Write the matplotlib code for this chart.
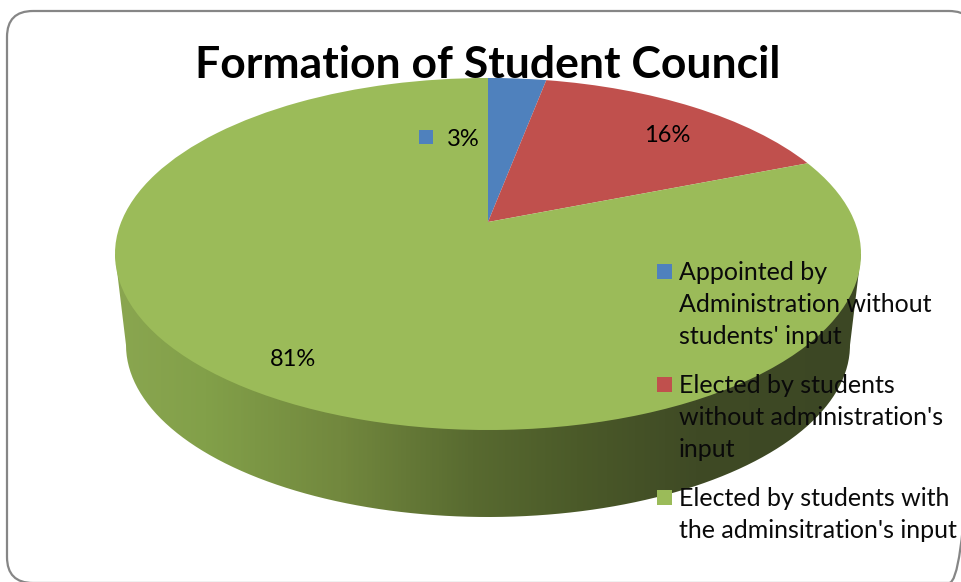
import matplotlib
matplotlib.use('Agg')
import matplotlib.pyplot as plt
import numpy as np
from matplotlib.colors import LinearSegmentedColormap
from matplotlib.patches import FancyBboxPatch, PathPatch, Rectangle
from matplotlib.path import Path
from matplotlib.transforms import Affine2D, Transform

plt.rcParams['font.family'] = ['Lato', 'DejaVu Sans']

title = 'Formation of Student Council'
categories = ["Appointed by\nAdministration without\nstudents' input",
              "Elected by students\nwithout administration's\ninput",
              "Elected by students with\nthe adminsitration's input"]
values = [3, 16, 81]
colors = ['#4F81BD', '#C0504D', '#9BBB59']

# data label places, px
label_xy = [(447, 137), (644, 134), (270, 357)]
legend_y = [271, 384, 497]

# colours of the side wall, left to right
wall_pos = [0.0, 0.12, 0.3, 0.48, 0.62, 0.78, 1.0]
wall_col = ['#8AA650', '#82A049', '#72883E', '#586A30', '#4B5A29', '#3F4A25', '#3C4724']


class Tilt(Transform):
    # pie lying on a table, seen from the front
    input_dims = 2
    output_dims = 2
    k = 0.1818

    def transform_non_affine(self, pts):
        pts = np.asarray(pts, dtype=float)
        d = 1 + self.k * pts[:, 1]
        return np.column_stack((366.8 * pts[:, 0] / d, -170.2 * pts[:, 1] / d))


fig = plt.figure(figsize=(9.61, 5.82), dpi=100)
ax = fig.add_axes([0, 0, 1, 1])

wedges, _ = ax.pie(values, colors=colors, startangle=90, counterclock=False, radius=1)
to_screen = Tilt() + Affine2D().translate(488, 222) + ax.transData
for w in wedges:
    w.set_transform(to_screen)
    w.set_zorder(3)

# side wall
t = np.linspace(np.pi, 0, 200)
wall_verts = np.column_stack((488 + 362 * np.cos(t), 345 + 172 * np.sin(t)))
wall_verts = np.vstack(([115, 254], wall_verts, [861, 254], [115, 254]))
wall_patch = PathPatch(Path(wall_verts), transform=ax.transData, fc='none', ec='none')
ax.add_patch(wall_patch)
cmap = LinearSegmentedColormap.from_list('wall', list(zip(wall_pos, wall_col)))
im = ax.imshow(np.linspace(0, 1, 400)[None, :], cmap=cmap, extent=(115, 861, 520, 250),
               aspect='auto', zorder=2)
im.set_clip_path(wall_patch)

ax.set_aspect('auto')
ax.set_xlim(0, 961)
ax.set_ylim(582, 0)
ax.axis('off')

# chart frame
ax.add_patch(FancyBboxPatch((7, 11), 968, 572, boxstyle='round,pad=0,rounding_size=26',
                            fc='none', ec='#868686', lw=1.6, zorder=1, clip_on=False))

ax.text(488, 65, title, fontsize=32, fontweight='bold', ha='center', va='center', zorder=6)

for (x, y), v, c in zip(label_xy, values, colors):
    ax.add_patch(Rectangle((x - 28, y - 7), 14, 14, fc=c, ec='none', zorder=4))
    ax.text(x, y + 2, f'{v}%', fontsize=17, ha='left', va='center', zorder=6)

for y, lab, c in zip(legend_y, categories, colors):
    ax.add_patch(Rectangle((657, y - 7), 15, 15, fc=c, ec='none', zorder=5))
    ax.text(679, y - 10, lab, fontsize=18, ha='left', va='top', linespacing=1.48,
            color='#0a0a0a', zorder=6)

fig.savefig('out.png', dpi=100)
